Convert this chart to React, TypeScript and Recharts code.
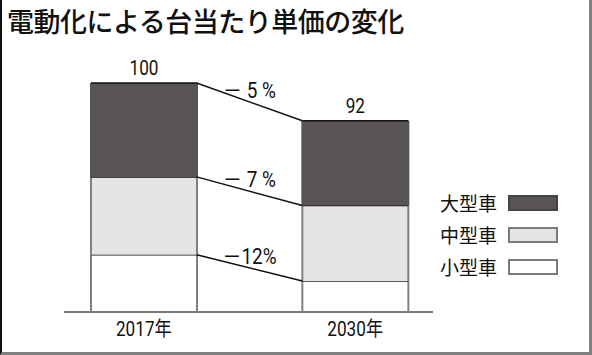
import { Bar, ComposedChart, LabelList, Legend, ReferenceLine, XAxis, YAxis } from "recharts";

const categories = ["2017年", "", "2030年"];
const small = [25, null, 13.5];
const medium = [34, null, 33];
const large = [41, null, 37];
const totals = ["100", "", "92"];
const changes = ["－ 5 %", "－ 7 %", "－12%"];
const legendNames = ["小型車", "中型車", "大型車"];
const colors = ["#ffffff", "#e5e5e7", "#585454"];

const font = "Roboto, 'Noto Sans CJK JP', sans-serif";
const jp = "'Noto Sans CJK JP', sans-serif";

const data = categories.map((name, i) => ({ name, small: small[i], medium: medium[i], large: large[i] }));

// cumulative heights at each boundary, first and last bar
const levels = [
  [small[0]! + medium[0]! + large[0]!, small[2]! + medium[2]! + large[2]!],
  [small[0]! + medium[0]!, small[2]! + medium[2]!],
  [small[0]!, small[2]!],
];

// condensed-looking text, the reference uses a narrow face
function Narrow({ x, y, size = 20, children }: any) {
  return (
    <text transform={`translate(${x},${y}) scale(0.86,1)`} textAnchor="middle" fontFamily={font} fontSize={size} fill="#111">
      {children}
    </text>
  );
}

function Segment(props: any) {
  const { x, y, width, height, fill } = props;
  if (!height || height <= 0) return <g />;
  const side = fill === colors[2] ? "#555" : "#808080";
  return (
    <g>
      <rect x={x} y={y} width={width} height={height} fill={fill} />
      <line x1={x} x2={x} y1={y} y2={y + height} stroke={side} strokeWidth={2} />
      <line x1={x + width} x2={x + width} y1={y} y2={y + height} stroke={side} strokeWidth={2} />
      <line x1={x} x2={x + width} y1={y} y2={y} stroke="#111" strokeWidth={1.5} />
    </g>
  );
}

function ChangeLabel({ viewBox, text }: any) {
  const cx = viewBox.x + viewBox.width / 2;
  const cy = viewBox.y + viewBox.height / 2;
  return <Narrow x={cx} y={cy - 4} size={22}>{text}</Narrow>;
}

function LegendBox() {
  const rows = [2, 1, 0];
  return (
    <div>
      {rows.map((i) => (
        <div key={i} style={{ height: 32, position: "relative" }}>
          <span style={{ position: "absolute", left: 0, top: 0, fontFamily: jp, fontSize: 19, lineHeight: "20px", color: "#111" }}>
            {legendNames[i]}
          </span>
          <span
            style={{
              position: "absolute",
              left: 68,
              top: 2,
              width: 50,
              height: 16,
              boxSizing: "border-box",
              background: colors[i],
              border: `2px solid ${i === 2 ? "#444" : "#7a7a7a"}`,
            }}
          />
        </div>
      ))}
    </div>
  );
}

export default function App() {
  return (
    <div style={{ position: "absolute", left: 0, top: 0, width: 592, height: 355, background: "#fff", overflow: "hidden" }}>
      <div style={{ position: "absolute", left: 7, top: 3, fontFamily: jp, fontWeight: 500, fontSize: 27, letterSpacing: -0.5, lineHeight: "36px", color: "#111" }}>
        電動化による台当たり単価の変化
      </div>
      <div style={{ position: "absolute", left: 0, top: 0 }}>
        <ComposedChart width={592} height={355} data={data} margin={{ top: 83, right: 159, bottom: 13, left: 64 }} barCategoryGap={0}>
          <XAxis
            xAxisId="cat"
            dataKey="name"
            type="category"
            padding={{ left: 27, right: 25 }}
            height={30}
            axisLine={{ stroke: "#7a7a7a", strokeWidth: 2 }}
            tickLine={false}
            interval={0}
            tick={({ x, y, payload }: any) => <Narrow x={x} y={y + 16}>{payload.value}</Narrow>}
          />
          <XAxis xAxisId="num" dataKey="pos" type="number" domain={[0, 3]} allowDataOverflow padding={{ left: 27, right: 25 }} hide />
          <YAxis domain={[0, 100]} hide />
          <Legend
            layout="vertical"
            align="center"
            verticalAlign="middle"
            content={<LegendBox />}
            wrapperStyle={{ position: "absolute", left: 440, top: 193, width: 130, height: 96 }}
          />
          <Bar xAxisId="cat" dataKey="small" name={legendNames[0]} stackId="a" fill={colors[0]} shape={<Segment />} isAnimationActive={false} />
          <Bar xAxisId="cat" dataKey="medium" name={legendNames[1]} stackId="a" fill={colors[1]} shape={<Segment />} isAnimationActive={false} />
          <Bar xAxisId="cat" dataKey="large" name={legendNames[2]} stackId="a" fill={colors[2]} shape={<Segment />} isAnimationActive={false}>
            <LabelList
              dataKey="large"
              content={({ x, y, width, index }: any) =>
                totals[index] ? <Narrow x={x + width / 2} y={y - 8}>{totals[index]}</Narrow> : null
              }
            />
          </Bar>
          {levels.map(([a, b], i) => (
            <ReferenceLine
              key={i}
              xAxisId="num"
              segment={[{ x: 1, y: a }, { x: 2, y: b }]}
              stroke="#111"
              strokeWidth={1.5}
              label={<ChangeLabel text={changes[i]} />}
            />
          ))}
        </ComposedChart>
      </div>
      <div style={{ position: "absolute", left: 0, top: 0, width: 592, height: 355, boxSizing: "border-box", borderLeft: "2px solid #111", borderRight: "3px solid #808080", borderBottom: "3px solid #808080", pointerEvents: "none" }} />
    </div>
  );
}
